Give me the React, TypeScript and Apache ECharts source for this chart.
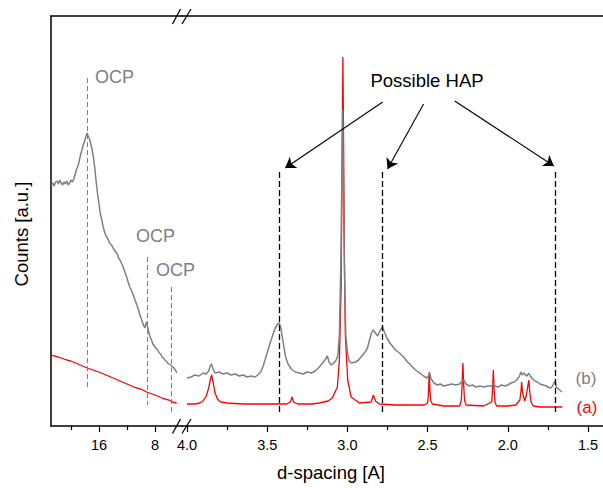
import React, { useEffect, useRef } from "react";
import * as echarts from "echarts";

const FONT = "'Liberation Sans', Arial, Helvetica, sans-serif";

// ---- axis ticks (d-spacing, Å) ----
const leftMajorTicks = [16, 8];
const leftMinorTicks = [20, 12];
const rightMajorTicks = [4.0, 3.5, 3.0, 2.5, 2.0, 1.5];
const rightMinorTicks = [3.75, 3.25, 2.75, 2.25, 1.75];

// ---- sample (b), gray, large d-spacing part: [d, counts] ----
const sampleBLow: [number, number][] = [
  [22.8, 241], [22.6, 243], [22.4, 240], [22.2, 244], [22.0, 245], [21.8, 242], [21.6, 246],
  [21.4, 243], [21.2, 241], [21.0, 244], [20.8, 242], [20.6, 245], [20.4, 241], [20.2, 243],
  [20.0, 246], [19.8, 244], [19.6, 247], [19.4, 252], [19.2, 257], [19.0, 260], [18.8, 266],
  [18.6, 272], [18.4, 277], [18.2, 282], [18.0, 286], [17.85, 290], [17.7, 293], [17.55, 290],
  [17.4, 288], [17.2, 283], [17.0, 277], [16.8, 269], [16.6, 258], [16.4, 244], [16.2, 232],
  [16.0, 222], [15.8, 212], [15.6, 206], [15.4, 199], [15.2, 194], [15.0, 190], [14.8, 188],
  [14.6, 185], [14.4, 182], [14.2, 181], [14.0, 178], [13.8, 176], [13.6, 174], [13.4, 172],
  [13.2, 168], [13.0, 166], [12.8, 163], [12.6, 160], [12.4, 156], [12.2, 152], [12.0, 148],
  [11.8, 143], [11.6, 139], [11.4, 136], [11.2, 133], [11.0, 129], [10.8, 125], [10.6, 121],
  [10.4, 117], [10.2, 112], [10.0, 108], [9.8, 104], [9.6, 100], [9.45, 98], [9.3, 102],
  [9.2, 104], [9.05, 99], [8.9, 94], [8.7, 89], [8.5, 86], [8.3, 82], [8.0, 79], [7.8, 77],
  [7.6, 76], [7.4, 73], [7.2, 72], [7.0, 69], [6.8, 68], [6.6, 66], [6.4, 65], [6.2, 63],
  [6.0, 62], [5.8, 61], [5.6, 60], [5.4, 59], [5.2, 57], [5.0, 55], [4.9, 53],
];

// ---- sample (b), gray, small d-spacing part ----
const sampleBHigh: [number, number][] = [
  [4.0, 48], [3.975, 49], [3.95, 51], [3.925, 50], [3.9, 53], [3.88, 52], [3.865, 55],
  [3.855, 60], [3.847, 62], [3.838, 57], [3.825, 53], [3.8, 54], [3.775, 52], [3.75, 53],
  [3.725, 51], [3.7, 52], [3.675, 50], [3.65, 51], [3.625, 49], [3.6, 50], [3.575, 49],
  [3.56, 51], [3.54, 54], [3.525, 60], [3.51, 68], [3.495, 76], [3.48, 84], [3.465, 91],
  [3.45, 98], [3.435, 102], [3.425, 103], [3.415, 98], [3.405, 88], [3.395, 78], [3.385, 69],
  [3.37, 62], [3.35, 57], [3.325, 54], [3.3, 53], [3.275, 52], [3.25, 54], [3.225, 53],
  [3.2, 55], [3.18, 58], [3.16, 62], [3.14, 66], [3.125, 70], [3.115, 64], [3.1, 61],
  [3.085, 63], [3.07, 66], [3.06, 70], [3.05, 91], [3.04, 171], [3.03, 316], [3.02, 171],
  [3.01, 91], [3.0, 74], [2.99, 65], [2.975, 63], [2.95, 64], [2.93, 66], [2.91, 70],
  [2.89, 74], [2.875, 78], [2.862, 86], [2.85, 93], [2.84, 96], [2.825, 93], [2.812, 90],
  [2.8, 94], [2.79, 97], [2.78, 99], [2.77, 94], [2.75, 87], [2.735, 83], [2.715, 79],
  [2.7, 76], [2.675, 73], [2.65, 69], [2.625, 64], [2.6, 60], [2.575, 56], [2.55, 53],
  [2.525, 50], [2.505, 48], [2.495, 50], [2.487, 53], [2.478, 47], [2.46, 43], [2.44, 41],
  [2.42, 42], [2.4, 40], [2.375, 41], [2.35, 42], [2.325, 41], [2.3, 42], [2.285, 45],
  [2.275, 46], [2.26, 42], [2.24, 40], [2.22, 41], [2.2, 39], [2.175, 40], [2.15, 39],
  [2.125, 40], [2.1, 40], [2.09, 43], [2.08, 40], [2.06, 39], [2.04, 41], [2.02, 40],
  [2.0, 41], [1.98, 43], [1.96, 44], [1.945, 46], [1.93, 49], [1.918, 54], [1.91, 51],
  [1.9, 53], [1.89, 51], [1.88, 50], [1.87, 53], [1.86, 50], [1.845, 47], [1.83, 45],
  [1.815, 44], [1.8, 42], [1.78, 41], [1.76, 40], [1.74, 38], [1.725, 39], [1.712, 43],
  [1.705, 45], [1.698, 39], [1.685, 37], [1.67, 35], [1.662, 34],
];

// ---- sample (a), red, large d-spacing part ----
const sampleALow: [number, number][] = [
  [22.8, 71], [21.8, 69], [21.0, 67], [20.0, 65], [19.0, 62], [17.7, 58], [16.0, 54],
  [15.0, 51], [14.0, 48], [13.0, 45], [12.0, 42], [11.0, 39], [10.0, 37], [9.2, 34],
  [8.0, 31], [7.0, 28], [6.0, 26], [5.5, 24], [4.9, 23],
];

// ---- sample (a), red, small d-spacing part ----
const sampleAHigh: [number, number][] = [
  [4.0, 22], [3.95, 22], [3.92, 23], [3.9, 25], [3.88, 30], [3.865, 38], [3.855, 46],
  [3.846, 51], [3.835, 42], [3.825, 33], [3.81, 27], [3.79, 24], [3.75, 23], [3.65, 22],
  [3.55, 22], [3.45, 22], [3.38, 22], [3.355, 24], [3.345, 29], [3.335, 24], [3.31, 22],
  [3.22, 22], [3.175, 23], [3.12, 25], [3.094, 28], [3.0625, 39], [3.05, 66], [3.039, 139],
  [3.028, 369], [3.017, 139], [3.0125, 89], [2.998, 46], [2.977, 29], [2.925, 23],
  [2.852, 24], [2.838, 31], [2.825, 25], [2.8, 22], [2.7, 21], [2.6, 21], [2.52, 21],
  [2.5, 23], [2.495, 31], [2.49, 54], [2.485, 34], [2.48, 25], [2.47, 22], [2.4, 20],
  [2.3, 20], [2.29, 26], [2.285, 41], [2.28, 63], [2.275, 41], [2.27, 26], [2.26, 21],
  [2.15, 20], [2.1, 24], [2.095, 38], [2.09, 56], [2.085, 36], [2.08, 24], [2.07, 20],
  [2.0, 20], [1.95, 21], [1.925, 26], [1.918, 34], [1.914, 44], [1.908, 34], [1.895, 25],
  [1.885, 30], [1.875, 40], [1.869, 46], [1.863, 34], [1.855, 24], [1.84, 20], [1.8, 19],
  [1.7, 19], [1.66, 19],
];

// ---- annotations ----
const ocpD = [17.7, 9.14, 5.71];
const ocpTop = [348, 169, 139];
const ocpBottom = [38, 21, 11];
const hapD = [3.425, 2.78, 1.706];
const hapTop = 254;
const hapBottom = 13;
const arrowFrom: [number, number][] = [[2.78, 324], [2.525, 322], [2.331, 325]];
const arrowTo: [number, number][] = [[3.3875, 258], [2.75, 257], [1.7125, 260]];

const Y_MIN = 0;
const Y_MAX = 410;
const LEFT_MIN = 4.143;
const LEFT_MAX = 22.857;
const RIGHT_MIN = 1.4065;
const RIGHT_MAX = 4.0312;

const GRAY = "#808080";
const RED = "#ff0000";
const AXIS = "#000000";

function xAxes(gridIndex: number, min: number, max: number, major: number[], minor: number[], fmt: (v: number) => string) {
  return [
    {
      type: "value", gridIndex, min, max, inverse: true, position: "bottom",
      axisLine: { show: true, lineStyle: { color: AXIS, width: 1.5 } },
      axisTick: { show: true, customValues: major, length: 6, lineStyle: { color: AXIS, width: 1.2 } },
      axisLabel: { show: true, customValues: major, formatter: fmt, fontSize: 14.5, fontFamily: FONT, color: "#000", margin: 11 },
      splitLine: { show: false },
    },
    {
      type: "value", gridIndex, min, max, inverse: true, position: "bottom",
      axisLine: { show: false },
      axisTick: { show: true, customValues: minor, length: 4, lineStyle: { color: AXIS, width: 1.2 } },
      axisLabel: { show: false },
      splitLine: { show: false },
    },
    {
      type: "value", gridIndex, min, max, inverse: true, position: "top",
      axisLine: { show: true, lineStyle: { color: AXIS, width: 1.5 } },
      axisTick: { show: false },
      axisLabel: { show: false },
      splitLine: { show: false },
    },
  ];
}

export default function App() {
  const ref = useRef<HTMLDivElement>(null);
  useEffect(() => {
    if (!ref.current) return;
    const chart = echarts.init(ref.current, null, { renderer: "svg", width: 603, height: 488 });
    const option: any = {
      animation: false,
      backgroundColor: "#ffffff",
      grid: [
        { left: 51, right: 421, top: 16, bottom: 62, outerBoundsMode: "none", containLabel: false },
        { left: 182, right: 0, top: 16, bottom: 62, outerBoundsMode: "none", containLabel: false },
      ],
      xAxis: [
        ...xAxes(0, LEFT_MIN, LEFT_MAX, leftMajorTicks, leftMinorTicks, (v: number) => String(Math.round(v))),
        ...xAxes(1, RIGHT_MIN, RIGHT_MAX, rightMajorTicks, rightMinorTicks, (v: number) => v.toFixed(1)),
      ],
      yAxis: [
        {
          type: "value", gridIndex: 0, min: Y_MIN, max: Y_MAX,
          axisLine: { show: true, lineStyle: { color: AXIS, width: 1.5 } },
          axisTick: { show: false }, axisLabel: { show: false }, splitLine: { show: false },
        },
        {
          type: "value", gridIndex: 1, min: Y_MIN, max: Y_MAX,
          axisLine: { show: false }, axisTick: { show: false }, axisLabel: { show: false }, splitLine: { show: false },
        },
      ],
      series: [
        {
          type: "line", xAxisIndex: 0, yAxisIndex: 0, data: sampleALow, showSymbol: false, symbol: "none",
          lineStyle: { color: RED, width: 1.3 }, z: 3,
        },
        {
          type: "line", xAxisIndex: 0, yAxisIndex: 0, data: sampleBLow, showSymbol: false, symbol: "none",
          lineStyle: { color: GRAY, width: 1.5 }, z: 4,
          markLine: {
            silent: true, symbol: "none", label: { show: false },
            lineStyle: { color: GRAY, width: 1, type: [5, 3] },
            data: ocpD.map((d, i) => [{ coord: [d, ocpTop[i]] }, { coord: [d, ocpBottom[i]] }]),
          },
        },
        {
          type: "line", xAxisIndex: 3, yAxisIndex: 1, data: sampleAHigh, showSymbol: false, symbol: "none",
          lineStyle: { color: RED, width: 1.3 }, z: 3,
          markLine: {
            silent: true, symbol: "none", label: { show: false },
            lineStyle: { color: "#000", width: 1.3, type: [6, 3] },
            data: hapD.map((d) => [{ coord: [d, hapTop] }, { coord: [d, hapBottom] }]),
          },
        },
        {
          type: "line", xAxisIndex: 3, yAxisIndex: 1, data: sampleBHigh, showSymbol: false, symbol: "none",
          lineStyle: { color: GRAY, width: 1.5 }, z: 4,
          markLine: {
            silent: true, symbol: ["none", "arrow"], symbolSize: 10, label: { show: false },
            lineStyle: { color: "#000", width: 1.1, type: "solid" },
            data: arrowFrom.map((f, i) => [{ coord: f }, { coord: arrowTo[i] }]),
          },
        },
      ],
      graphic: [
        // axis break marks
        { type: "line", z: 100, shape: { x1: 172.5, y1: 24, x2: 180.5, y2: 9 }, style: { stroke: "#000", lineWidth: 1.3 } },
        { type: "line", z: 100, shape: { x1: 182, y1: 24, x2: 191, y2: 9 }, style: { stroke: "#000", lineWidth: 1.3 } },
        { type: "line", z: 100, shape: { x1: 172.5, y1: 433.5, x2: 180.5, y2: 419 }, style: { stroke: "#000", lineWidth: 1.3 } },
        { type: "line", z: 100, shape: { x1: 182, y1: 433.5, x2: 191, y2: 419 }, style: { stroke: "#000", lineWidth: 1.3 } },
        // axis titles
        {
          type: "text", x: 331, y: 472, z: 100,
          style: { text: "d-spacing [A]", fontSize: 18.5, fontFamily: FONT, fill: "#000", align: "center", verticalAlign: "middle" },
        },
        {
          type: "text", x: 21, y: 234, rotation: Math.PI / 2, z: 100,
          style: { text: "Counts [a.u.]", fontSize: 18.5, fontFamily: FONT, fill: "#000", align: "center", verticalAlign: "middle" },
        },
        // annotations
        {
          type: "text", x: 427, y: 80, z: 100,
          style: { text: "Possible HAP", fontSize: 18.5, fontFamily: FONT, fill: "#000", align: "center", verticalAlign: "middle" },
        },
        { type: "text", x: 95, y: 77, z: 100, style: { text: "OCP", fontSize: 18, fontFamily: FONT, fill: GRAY, align: "left", verticalAlign: "middle" } },
        { type: "text", x: 136, y: 236, z: 100, style: { text: "OCP", fontSize: 18, fontFamily: FONT, fill: GRAY, align: "left", verticalAlign: "middle" } },
        { type: "text", x: 156, y: 270, z: 100, style: { text: "OCP", fontSize: 18, fontFamily: FONT, fill: GRAY, align: "left", verticalAlign: "middle" } },
        { type: "text", x: 586, y: 378, z: 100, style: { text: "(b)", fontSize: 17, fontFamily: FONT, fill: GRAY, align: "center", verticalAlign: "middle" } },
        { type: "text", x: 587, y: 407, z: 100, style: { text: "(a)", fontSize: 17, fontFamily: FONT, fill: RED, align: "center", verticalAlign: "middle" } },
      ],
    };
    chart.setOption(option);
    return () => chart.dispose();
  }, []);
  return (
    <div
      ref={ref}
      style={{ position: "absolute", left: 0, top: 0, width: 603, height: 488, background: "#fff" }}
    />
  );
}
